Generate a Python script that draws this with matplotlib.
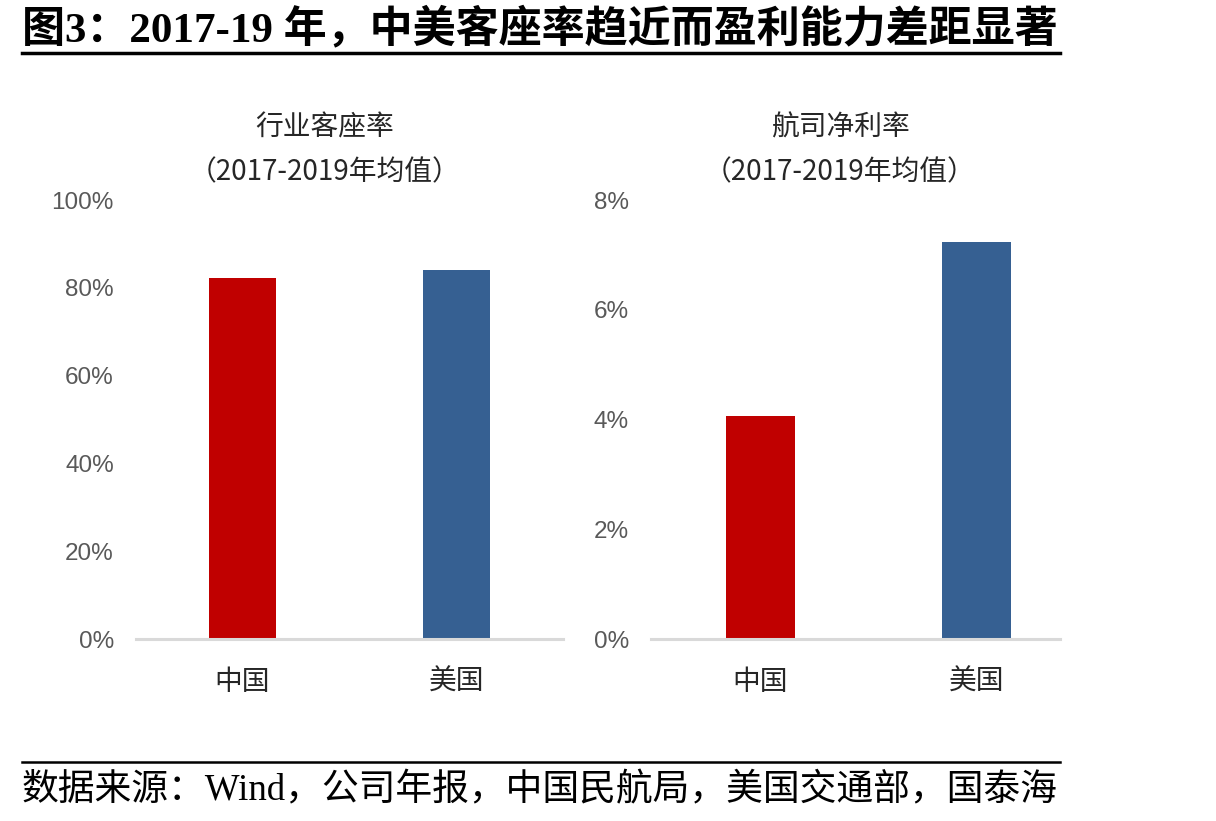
import matplotlib
matplotlib.use('Agg')
import matplotlib.pyplot as plt
from matplotlib.lines import Line2D

# data
categories = ['中国', '美国']
load_factor = [82.2, 84.1]      # 行业客座率, %
net_margin = [4.06, 7.23]       # 航司净利率, %
bar_colors = ['#C00000', '#366092']

title = '图3：2017-19 年，中美客座率趋近而盈利能力差距显著'
source = '数据来源：Wind，公司年报，中国民航局，美国交通部，国泰海'

W, H = 1216, 821
fig = plt.figure(figsize=(W / 100, H / 100), dpi=100)

serif = ['Liberation Serif', 'Noto Sans CJK SC']
sans = ['Noto Sans CJK SC', 'DejaVu Sans']
narrow = ['Liberation Sans Narrow', 'Liberation Sans', 'DejaVu Sans']


def px_axes(x0, x1, ytop, ybot):
    return fig.add_axes([x0 / W, 1 - ybot / H, (x1 - x0) / W, (ybot - ytop) / H])


def style(ax, ymax, xlim, ticks, fmt):
    ax.set_xlim(*xlim)
    ax.set_ylim(0, ymax)
    for s in ['top', 'right', 'left']:
        ax.spines[s].set_visible(False)
    ax.spines['bottom'].set_color('#d9d9d9')
    ax.spines['bottom'].set_linewidth(2.2)
    ax.set_yticks(ticks)
    ax.set_yticklabels([fmt(t) for t in ticks], family=narrow, fontsize=17.5, color='#595959')
    ax.tick_params(axis='y', length=0, pad=16)
    ax.set_xticks(range(len(categories)))
    ax.set_xticklabels(categories, family=sans, fontsize=20, color='#262626')
    ax.tick_params(axis='x', length=0, pad=20)
    ax.patch.set_alpha(0)


# panel 1
ax1 = px_axes(136, 563, 200, 639)
ax1.bar(range(len(categories)), load_factor, width=0.313, color=bar_colors)
style(ax1, 100, (-0.498, 1.498), range(0, 101, 20), lambda t: f'{t}%')
fig.text(325 / W, 1 - 128 / H, '行业客座率', family=sans, fontsize=20, color='#262626',
         ha='center', va='center')
fig.text(325 / W, 1 - 172 / H, '（2017-2019年均值）', family=sans, fontsize=20, color='#262626',
         ha='center', va='center')

# panel 2
ax2 = px_axes(651, 1060, 200, 639)
ax2.bar(range(len(categories)), net_margin, width=0.32, color=bar_colors)
style(ax2, 8, (-0.507, 1.387), range(0, 9, 2), lambda t: f'{t}%')
fig.text(840 / W, 1 - 128 / H, '航司净利率', family=sans, fontsize=20, color='#262626',
         ha='center', va='center')
fig.text(840 / W, 1 - 172 / H, '（2017-2019年均值）', family=sans, fontsize=20, color='#262626',
         ha='center', va='center')

# title and source
fig.text(22 / W, 1 - 29 / H, title, family=serif, fontsize=31, fontweight='bold',
         ha='left', va='center')
fig.add_artist(Line2D([22 / W, 1060 / W], [1 - 53 / H] * 2, color='black', lw=2.5))
fig.add_artist(Line2D([22 / W, 1060 / W], [1 - 762 / H] * 2, color='black', lw=1.8))
fig.text(22 / W, 1 - 791 / H, source, family=serif, fontsize=26.5, ha='left', va='center')

fig.savefig('out.png', dpi=100)
plt.close(fig)
